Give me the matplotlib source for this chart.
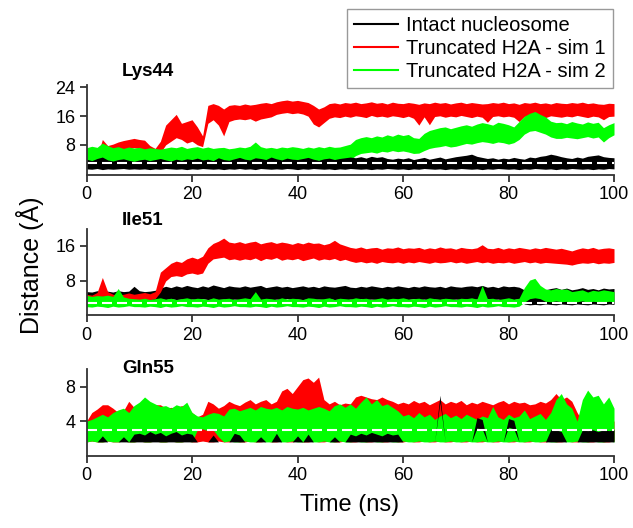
import numpy as np
import matplotlib
matplotlib.use('Agg')
import matplotlib.pyplot as plt
from matplotlib.lines import Line2D

plt.rcParams['font.family'] = ['Liberation Sans', 'DejaVu Sans']

# Tiempo de simulación (ns), un punto por ns; cada serie es una banda (mín / máx)
tiempo = np.arange(0, 101)

# ---------------- Lys44 ----------------
lys_blk_lo = [1.3, 1.2, 1.4, 1.1, 1.3, 1.2, 1.3, 1.4, 1.2, 1.3,
              1.2, 1.3, 1.1, 1.3, 1.2, 1.4, 1.3, 1.2, 1.3, 1.1,
              1.3, 1.2, 1.4, 1.3, 1.2, 1.3, 1.1, 1.3, 1.2, 1.4,
              1.2, 1.3, 1.1, 1.4, 1.3, 1.2, 1.3, 1.2, 1.4, 1.3,
              1.1, 1.3, 1.2, 1.4, 1.3, 1.2, 1.3, 1.1, 1.3, 1.2,
              1.4, 1.3, 1.2, 1.3, 1.1, 1.3, 1.2, 1.4, 1.3, 1.2,
              1.3, 1.1, 1.3, 1.2, 1.4, 1.3, 1.2, 1.3, 1.1, 1.3,
              1.2, 1.4, 1.3, 1.2, 1.3, 1.1, 1.3, 1.2, 1.4, 1.3,
              1.2, 1.3, 1.1, 1.3, 1.2, 1.4, 1.3, 1.2, 1.3, 1.1,
              1.3, 1.2, 1.4, 1.3, 1.2, 1.3, 1.1, 1.3, 1.2, 1.4,
              1.3]
lys_blk_hi = [4.0, 3.6, 4.2, 4.6, 3.8, 3.5, 3.9, 4.1, 3.7, 3.4,
              3.8, 4.0, 3.6, 3.9, 4.2, 3.8, 3.5, 4.0, 3.7, 4.1,
              3.9, 4.3, 3.8, 4.0, 3.6, 4.4, 3.9, 3.7, 4.1, 4.5,
              4.0, 3.8, 4.4, 4.2, 3.9, 4.6, 4.1, 3.8, 4.3, 4.0,
              3.9, 4.2, 4.5, 4.0, 3.7, 4.1, 4.3, 3.9, 4.2, 4.4,
              4.6, 4.4, 4.7, 4.3, 4.8, 4.5, 4.7, 4.2, 4.0, 4.3,
              4.1, 4.4, 3.9, 4.2, 4.5, 4.0, 4.3, 4.6, 4.1, 4.4,
              4.7, 4.9, 5.1, 5.4, 4.8, 4.5, 4.2, 4.4, 4.0, 4.3,
              4.1, 4.5, 4.2, 4.0, 4.6, 4.4, 4.8, 5.0, 5.4, 5.1,
              4.7, 4.4, 4.2, 4.6, 4.3, 4.8, 5.0, 5.2, 4.7, 4.5,
              4.4]
lys_red_lo = [3.0, 2.2, 1.5, 2.5, 4.5, 5.8, 6.3, 6.8, 7.0, 7.2,
              7.0, 6.6, 5.2, 5.0, 5.8, 8.0, 9.0, 10.0, 9.5, 8.5,
              9.0, 8.0, 7.5, 14.0, 15.0, 13.5, 10.5, 14.5, 15.0, 15.2,
              15.0, 15.3, 14.6, 15.2, 15.5, 15.8, 16.5, 16.8, 17.0, 16.7,
              16.9, 16.6, 16.0, 13.8, 13.0, 14.2, 15.4, 15.8, 15.6, 16.0,
              15.7, 16.1, 15.9, 15.6, 16.2, 15.8, 16.0, 15.7, 16.1, 15.9,
              15.6, 16.0, 15.4, 13.5, 15.8, 13.6, 15.9, 16.1, 15.7, 16.0,
              15.8, 16.2, 15.9, 15.6, 16.0, 15.7, 14.3, 15.9, 16.1, 15.8,
              16.0, 15.7, 14.5, 15.9, 16.2, 15.8, 16.0, 15.6, 16.1, 15.9,
              15.7, 16.0, 15.8, 16.2, 15.9, 15.6, 16.0, 15.8, 15.0, 15.9,
              16.0]
lys_red_hi = [6.0, 5.2, 4.5, 9.5, 7.8, 8.2, 8.8, 9.2, 9.5, 9.8,
              9.5, 9.3, 7.8, 7.0, 9.0, 13.5, 15.0, 16.5, 14.0, 14.5,
              15.0, 13.0, 10.5, 19.0, 19.5, 19.0, 18.0, 19.0, 19.2, 19.0,
              19.4, 19.1, 19.3, 19.6, 19.8, 19.5, 20.0, 20.3, 20.5, 20.2,
              20.4, 20.1, 19.8, 19.0, 18.0, 18.6, 19.5, 19.7, 19.4, 19.8,
              19.6, 19.9, 19.5, 19.7, 20.0, 19.6, 19.8, 19.4, 19.9, 19.6,
              19.5, 19.8, 19.6, 19.3, 19.7, 19.5, 19.9, 19.6, 19.8, 19.4,
              19.7, 19.9, 19.5, 19.8, 19.6, 19.4, 19.5, 19.8, 19.6, 19.9,
              19.5, 19.7, 19.3, 19.8, 19.6, 19.9, 19.5, 19.7, 19.4, 19.8,
              19.6, 19.5, 19.8, 19.6, 19.9, 19.5, 19.7, 19.4, 19.3, 19.6,
              19.5]
lys_grn_lo = [3.0, 2.6, 2.2, 2.8, 3.2, 3.0, 2.9, 3.3, 3.1, 3.0,
              3.2, 3.0, 3.4, 3.1, 2.9, 3.3, 3.5, 3.2, 3.0, 3.4,
              3.3, 3.1, 3.5, 3.2, 3.4, 3.0, 3.3, 3.6, 3.2, 3.4,
              3.5, 3.2, 3.4, 3.6, 3.3, 3.1, 3.5, 3.4, 3.2, 3.6,
              3.4, 3.6, 3.3, 3.5, 3.7, 3.4, 3.6, 3.3, 3.5, 3.8,
              3.8, 5.0, 5.6, 5.8, 6.0, 5.7, 6.2, 6.0, 6.4, 6.1,
              6.3, 6.0, 5.6, 5.7, 6.4, 7.0, 7.3, 7.5, 7.8, 7.4,
              7.6, 8.0, 8.4, 8.2, 8.6, 8.9, 8.7, 8.4, 8.8, 8.6,
              8.2, 8.6, 9.5, 11.0, 11.8, 12.0, 11.5, 11.0, 10.2, 9.8,
              9.8, 10.1, 9.9, 9.7, 10.0, 10.3, 9.9, 10.2, 8.8, 10.0,
              10.8]
lys_grn_hi = [7.2, 7.6, 7.3, 8.5, 7.8, 7.2, 7.5, 7.0, 7.4, 7.1,
              7.3, 6.9, 7.2, 7.0, 6.8, 7.1, 7.4, 7.2, 7.6, 7.0,
              7.3, 7.5, 7.1, 7.4, 7.0, 7.2, 7.3, 6.9, 7.1, 7.4,
              7.2, 7.6, 8.8, 7.5, 7.1, 7.3, 7.0, 7.4, 7.2, 7.5,
              7.3, 7.0, 7.4, 7.1, 7.5, 7.2, 7.6, 7.3, 7.4, 7.8,
              8.2, 9.5, 10.0, 10.3, 10.0, 10.5, 10.2, 10.8, 10.4, 11.0,
              10.6, 10.9, 10.0, 9.8, 11.2, 12.0, 12.4, 12.8, 13.0, 12.5,
              12.9, 13.3, 13.6, 13.2, 13.8, 14.2, 13.9, 13.5, 14.3, 14.0,
              13.6, 13.0, 14.5, 16.0, 16.8, 17.3, 16.5, 15.8, 14.6, 14.2,
              14.3, 13.9, 14.5, 14.1, 13.8, 14.4, 14.0, 14.3, 12.8, 13.6,
              14.2]

# ---------------- Ile51 ----------------
ile_blk_lo = [3.9, 3.8, 4.0, 3.8, 3.9, 3.7, 3.9, 3.8, 4.0, 3.8,
              3.9, 3.8, 3.9, 3.8, 3.9, 3.8, 4.0, 3.8, 3.9, 3.7,
              3.9, 3.8, 4.0, 3.8, 3.9, 3.8, 3.9, 3.7, 3.9, 3.8,
              3.9, 3.8, 4.0, 3.8, 3.9, 3.7, 3.9, 3.8, 4.0, 3.8,
              3.9, 3.8, 3.9, 3.8, 3.9, 3.8, 4.0, 3.8, 3.9, 3.7,
              3.9, 3.8, 4.0, 3.8, 3.9, 3.8, 3.9, 3.7, 3.9, 3.8,
              3.9, 3.8, 4.0, 3.8, 3.9, 3.7, 3.9, 3.8, 4.0, 3.8,
              3.9, 3.8, 3.9, 3.8, 3.9, 3.8, 4.0, 3.8, 3.9, 3.7,
              3.9, 3.8, 4.0, 2.8, 2.6, 2.7, 2.6, 2.8, 2.7, 2.6,
              2.8, 2.7, 2.6, 2.8, 2.7, 2.6, 2.8, 2.7, 2.6, 2.8,
              2.7]
ile_blk_hi = [5.6, 5.5, 5.8, 5.6, 5.7, 5.5, 5.8, 5.6, 5.7, 6.8,
              5.8, 5.6, 5.7, 5.9, 6.4, 6.8, 6.5, 6.9, 6.6, 7.0,
              6.7, 6.5, 6.9, 6.6, 7.1, 6.8, 6.5, 6.9, 6.7, 6.6,
              6.9, 6.6, 6.8, 7.0, 6.5, 6.7, 6.9, 6.6, 6.8, 6.5,
              6.7, 6.9, 6.6, 6.8, 6.5, 6.9, 6.7, 6.6, 6.8, 7.0,
              6.6, 6.5, 6.8, 6.6, 6.9, 6.7, 6.5, 6.8, 6.6, 6.9,
              6.7, 6.5, 6.8, 6.6, 6.9, 6.7, 6.6, 6.8, 6.5, 6.9,
              6.7, 6.6, 6.8, 6.9, 6.7, 7.0, 6.6, 6.8, 6.5, 6.9,
              6.7, 6.8, 6.6, 6.0, 5.8, 6.2, 6.4, 6.0, 6.3, 6.5,
              6.1, 6.4, 6.0, 6.2, 6.5, 6.1, 6.3, 6.0, 6.4, 6.2,
              6.3]
ile_red_lo = [3.8, 3.7, 3.9, 4.0, 3.8, 3.7, 3.8, 3.9, 3.8, 3.7,
              3.8, 3.9, 3.8, 4.0, 5.5, 8.0, 9.0, 9.2, 9.0, 9.6,
              9.8, 9.5, 9.8, 12.0, 13.0, 13.2, 13.4, 12.8, 13.0, 12.7,
              13.0, 12.8, 13.2, 12.6, 13.1, 12.9, 13.3, 12.7, 13.0, 12.8,
              13.1, 12.6, 12.9, 13.2, 12.7, 13.0, 12.8, 13.1, 12.6, 12.9,
              12.5, 12.2, 12.4, 12.1, 12.3, 12.0, 12.4, 12.2, 12.1, 12.3,
              12.0, 12.3, 12.1, 12.4, 12.2, 12.0, 12.3, 12.1, 12.2, 12.4,
              12.1, 12.3, 12.0, 12.2, 12.4, 12.1, 12.3, 12.0, 12.2, 12.1,
              12.3, 12.0, 12.2, 12.4, 12.1, 12.3, 12.0, 12.2, 12.1, 12.0,
              11.9, 11.8, 11.6, 11.9, 12.1, 12.0, 12.2, 11.9, 12.1, 12.0,
              12.2]
ile_red_hi = [5.0, 4.8, 5.4, 8.8, 5.6, 5.0, 4.8, 5.0, 5.3, 5.0,
              5.2, 5.4, 5.1, 5.6, 10.0, 11.0, 12.0, 12.5, 12.2, 13.0,
              13.4, 13.0, 13.6, 15.5, 16.5, 17.0, 17.7, 16.8, 16.6, 16.9,
              16.5, 16.8, 17.0, 16.4, 16.7, 16.9, 16.5, 16.8, 16.6, 16.3,
              16.7, 16.4, 16.8, 16.5, 16.6, 16.2, 16.5, 17.2, 16.4, 16.0,
              15.6, 15.4, 15.7, 15.3, 15.5, 15.6, 15.2, 15.5, 15.4, 15.7,
              15.3, 15.5, 15.4, 15.6, 15.2, 15.5, 15.3, 15.7, 15.4, 15.5,
              15.2, 15.6, 15.4, 15.3, 15.5, 16.2, 15.4, 15.3, 15.6, 15.2,
              15.5, 15.3, 15.6, 15.4, 15.2, 15.5, 15.3, 15.6, 15.4, 15.2,
              15.4, 15.1, 14.8, 15.2, 15.5, 15.3, 15.6, 15.2, 15.4, 15.5,
              15.3]
ile_grn_lo = [2.2, 2.1, 2.3, 2.2, 2.0, 2.3, 2.1, 2.2, 2.4, 2.2,
              2.2, 2.1, 2.3, 2.2, 2.0, 2.3, 2.1, 2.2, 2.4, 2.2,
              2.2, 2.1, 2.3, 2.2, 2.0, 2.3, 2.1, 2.2, 2.4, 2.2,
              2.2, 2.1, 2.3, 2.2, 2.0, 2.3, 2.1, 2.2, 2.4, 2.2,
              2.2, 2.1, 2.3, 2.2, 2.0, 2.3, 2.1, 2.2, 2.4, 2.2,
              2.2, 2.1, 2.3, 2.2, 2.0, 2.3, 2.1, 2.2, 2.4, 2.2,
              2.2, 2.1, 2.3, 2.2, 2.0, 2.3, 2.1, 2.2, 2.4, 2.2,
              2.2, 2.1, 2.3, 2.2, 2.0, 2.3, 2.1, 2.2, 2.4, 2.2,
              2.2, 2.1, 2.3, 3.2, 4.0, 4.2, 4.0, 3.4, 3.3, 3.5,
              3.3, 3.4, 3.2, 3.3, 3.5, 3.2, 3.4, 3.3, 3.2, 3.4,
              3.3]
ile_grn_hi = [4.8, 4.5, 4.7, 4.6, 4.8, 4.5, 6.3, 4.4, 4.1, 4.0,
              3.9, 4.1, 3.8, 4.0, 4.2, 3.9, 4.1, 3.8, 4.0, 4.2,
              3.9, 4.1, 4.0, 3.8, 4.2, 3.9, 4.0, 4.1, 3.8, 4.0,
              4.2, 4.0, 5.6, 3.9, 4.1, 4.0, 3.8, 4.2, 3.9, 4.1,
              4.0, 3.8, 4.2, 4.1, 3.9, 4.0, 4.2, 3.8, 4.1, 4.0,
              3.9, 4.2, 4.0, 4.1, 3.8, 4.0, 4.2, 3.9, 4.1, 4.0,
              4.2, 3.9, 4.0, 4.1, 3.8, 4.2, 4.0, 3.9, 4.1, 4.0,
              3.8, 4.1, 4.0, 4.2, 3.9, 7.0, 4.0, 4.1, 3.8, 4.0,
              4.2, 3.9, 4.1, 6.5, 8.2, 8.6, 7.0, 6.2, 6.0, 6.3,
              6.1, 6.2, 5.6, 5.8, 6.0, 5.5, 5.9, 5.7, 6.0, 5.8,
              5.6]

# ---------------- Gln55 ----------------
gln_blk_lo = [1.6, 1.6, 1.6, 1.6, 1.6, 1.6, 1.6, 1.6, 1.6, 1.6,
              1.6, 1.6, 1.6, 1.6, 1.6, 1.6, 1.6, 1.6, 1.6, 1.6,
              1.6, 1.6, 1.6, 1.6, 1.6, 1.6, 1.6, 1.6, 1.6, 1.6,
              1.6, 1.6, 1.6, 1.6, 1.6, 1.6, 1.6, 1.6, 1.6, 1.6,
              1.6, 1.6, 1.6, 1.6, 1.6, 1.6, 1.6, 1.6, 1.6, 1.6,
              1.6, 1.6, 1.6, 1.6, 1.6, 1.6, 1.6, 1.6, 1.6, 1.6,
              1.6, 1.6, 1.6, 1.6, 1.6, 1.6, 1.6, 6.2, 1.6, 1.6,
              1.6, 1.6, 1.6, 1.6, 3.2, 3.1, 1.6, 1.6, 1.6, 1.6,
              3.3, 3.1, 1.6, 1.6, 1.6, 1.6, 1.6, 1.6, 1.6, 1.6,
              1.6, 1.6, 1.6, 1.6, 1.6, 1.6, 1.6, 1.6, 1.6, 1.6,
              1.6]
gln_blk_hi = [1.6, 1.6, 1.6, 2.3, 1.6, 1.6, 1.6, 2.2, 1.6, 2.5,
              2.6, 2.4, 2.8, 2.5, 2.7, 2.3, 2.6, 2.8, 2.4, 2.6,
              2.5, 1.6, 1.6, 1.6, 2.4, 1.6, 1.6, 1.6, 2.6, 2.4,
              1.6, 1.6, 1.6, 2.2, 1.6, 1.6, 2.6, 1.6, 1.6, 1.6,
              2.3, 1.6, 2.5, 1.6, 1.6, 1.6, 1.6, 2.2, 1.6, 1.6,
              2.5, 2.3, 2.6, 2.4, 2.7, 2.5, 2.3, 2.6, 2.4, 2.5,
              1.6, 1.6, 1.6, 1.6, 1.6, 1.6, 1.6, 7.0, 1.6, 1.6,
              1.6, 1.6, 1.6, 1.6, 4.4, 4.2, 1.6, 1.6, 1.6, 1.6,
              4.3, 4.1, 1.6, 1.6, 1.6, 1.6, 1.6, 1.6, 3.0, 3.0,
              2.8, 1.6, 1.6, 1.6, 3.0, 2.9, 3.0, 2.8, 3.0, 2.9,
              3.0]
gln_red_lo = [1.6, 1.7, 1.6, 1.6, 1.7, 1.6, 1.6, 1.7, 1.6, 1.6,
              1.7, 1.6, 1.6, 1.7, 1.6, 1.6, 1.7, 1.6, 1.6, 1.7,
              1.6, 1.6, 1.7, 1.6, 1.6, 1.7, 1.6, 1.6, 1.7, 1.6,
              1.6, 1.7, 1.6, 1.6, 1.7, 1.6, 1.6, 1.7, 1.6, 1.6,
              1.7, 1.6, 1.6, 1.7, 1.6, 1.6, 1.7, 1.6, 1.6, 1.7,
              1.6, 1.6, 1.7, 1.6, 1.6, 1.7, 1.6, 1.6, 1.7, 1.6,
              1.6, 1.7, 1.6, 1.6, 1.7, 1.6, 1.6, 1.7, 1.6, 1.6,
              1.7, 1.6, 1.6, 1.7, 1.6, 1.6, 1.7, 1.6, 1.6, 1.7,
              1.6, 1.6, 1.7, 1.6, 1.6, 1.7, 1.6, 1.6, 1.7, 1.6,
              1.6, 1.7, 1.6, 1.6, 1.7, 1.6, 1.6, 1.7, 1.6, 1.6,
              1.7]
gln_red_hi = [4.0, 5.0, 5.4, 5.9, 5.9, 5.5, 5.0, 5.2, 6.3, 5.6,
              5.5, 5.8, 5.5, 5.9, 5.9, 5.5, 5.6, 5.5, 5.8, 5.6,
              5.0, 4.5, 4.8, 6.3, 6.0, 5.5, 5.8, 6.3, 6.0, 5.8,
              6.2, 6.5, 6.0, 6.3, 6.5, 6.0, 6.3, 7.5, 7.8, 7.2,
              8.0, 8.8, 9.0, 8.5, 9.1, 6.5, 6.0, 6.3, 5.9, 6.1,
              6.0, 6.8, 7.0, 6.8, 6.6, 6.5, 6.8, 6.5, 6.3, 6.0,
              6.2, 6.0, 6.4, 6.1, 6.3, 5.9, 6.2, 6.5, 6.0, 6.3,
              6.1, 6.4, 5.9, 6.2, 6.0, 6.3, 6.1, 5.9, 6.2, 6.4,
              6.0, 6.3, 6.1, 6.2, 5.9, 6.0, 6.3, 6.1, 6.5, 7.2,
              6.5, 6.8, 6.3, 5.0, 4.0, 4.2, 4.0, 4.1, 4.0, 4.2,
              4.0]
gln_grn_lo = [1.6, 1.7, 1.6, 1.6, 1.7, 1.6, 1.6, 1.7, 1.6, 1.6,
              1.7, 1.6, 1.6, 1.7, 1.6, 1.6, 1.7, 1.6, 1.6, 1.7,
              1.6, 3.0, 3.1, 2.9, 3.0, 2.2, 1.6, 1.7, 1.6, 1.6,
              1.7, 1.6, 1.6, 1.7, 1.6, 1.6, 1.7, 1.6, 1.6, 1.7,
              1.6, 1.6, 1.7, 1.6, 1.6, 1.7, 1.6, 1.6, 1.7, 1.6,
              1.6, 1.7, 1.6, 1.6, 1.7, 1.6, 1.6, 1.7, 1.6, 1.6,
              1.7, 1.6, 1.6, 1.7, 1.6, 1.6, 1.7, 1.6, 1.6, 1.7,
              1.6, 1.6, 1.7, 1.6, 1.6, 1.7, 1.6, 1.6, 1.7, 1.6,
              1.6, 1.7, 1.6, 1.6, 1.7, 1.6, 1.6, 1.7, 1.6, 1.6,
              1.7, 1.6, 1.6, 1.7, 1.6, 1.6, 1.7, 1.6, 1.6, 1.7,
              1.6]
gln_grn_hi = [4.0, 4.2, 4.5, 4.8, 4.5, 5.0, 5.3, 5.5, 5.0, 5.8,
              6.2, 6.8, 6.3, 6.0, 5.7, 5.8, 5.5, 5.9, 5.7, 6.2,
              5.0, 4.6, 4.5, 4.8, 5.0, 4.9, 4.6, 5.4, 5.5, 5.2,
              5.4, 5.6, 5.3, 5.7, 5.5, 5.4, 5.6, 5.3, 5.7, 5.5,
              5.4, 5.6, 5.3, 5.5, 5.7, 5.5, 5.2, 5.8, 6.0, 5.6,
              6.0, 5.5, 6.2, 6.8, 6.0, 6.5, 5.8, 6.0, 5.6, 5.2,
              4.6, 4.8, 4.4, 5.0, 4.5, 4.8, 4.2, 4.6, 4.9, 4.4,
              4.7, 4.3, 4.8, 4.5, 4.2, 4.6, 4.4, 5.7, 4.5, 4.2,
              4.8, 4.4, 4.6, 5.3, 4.3, 4.6, 4.9, 4.2, 5.0, 6.5,
              7.2, 6.0, 5.5, 4.0, 6.5, 7.6, 6.8, 7.0, 6.0, 6.8,
              5.5]

etiquetas = ['Intact nucleosome', 'Truncated H2A - sim 1', 'Truncated H2A - sim 2']
colores = {'blk': 'black', 'red': '#ff0000', 'grn': '#00ff00'}
corte = 3.0  # línea discontinua blanca


def graficar():
    fig = plt.figure(figsize=(6.33, 5.28), dpi=100)

    paneles = [
        dict(nombre='Lys44', pos=[0.1367, 0.6686, 0.8333, 0.1705], ylim=(-0.4, 24.7),
             yticks=[8, 16, 24], ytit=0.865,
             bandas=[('red', lys_red_lo, lys_red_hi), ('grn', lys_grn_lo, lys_grn_hi),
                     ('blk', lys_blk_lo, lys_blk_hi)]),
        dict(nombre='Ile51', pos=[0.1367, 0.4025, 0.8333, 0.1633], ylim=(0.2, 19.7),
             yticks=[8, 16], ytit=0.583,
             bandas=[('blk', ile_blk_lo, ile_blk_hi), ('red', ile_red_lo, ile_red_hi),
                     ('grn', ile_grn_lo, ile_grn_hi)]),
        dict(nombre='Gln55', pos=[0.1367, 0.1369, 0.8333, 0.1636], ylim=(0, 10),
             yticks=[4, 8], ytit=0.303,
             bandas=[('red', gln_red_lo, gln_red_hi), ('grn', gln_grn_lo, gln_grn_hi),
                     ('blk', gln_blk_lo, gln_blk_hi)]),
    ]

    for p in paneles:
        ax = fig.add_axes(p['pos'])
        for clave, lo, hi in p['bandas']:
            ax.fill_between(tiempo, lo, hi, color=colores[clave], lw=0)
        ax.axhline(corte, color='white', lw=1.5, dashes=(4.8, 2.4))
        ax.set_xlim(0, 100)
        ax.set_ylim(*p['ylim'])
        ax.set_xticks([0, 20, 40, 60, 80, 100])
        ax.set_yticks(p['yticks'])
        for s in ['top', 'right']:
            ax.spines[s].set_visible(False)
        for s in ['left', 'bottom']:
            ax.spines[s].set_linewidth(1.3)
            ax.spines[s].set_color('#333333')
        ax.tick_params(direction='out', length=5, width=1.3, color='#333333',
                       labelsize=13, pad=3)
        fig.text(0.193, p['ytit'], p['nombre'], fontsize=13.5, fontweight='bold',
                 va='center', ha='left')

    fig.text(0.048, 0.498, 'Distance (Å)', rotation=90, fontsize=18,
             ha='center', va='center')
    fig.text(0.553, 0.044, 'Time (ns)', fontsize=17, ha='center', va='center')

    manejadores = [Line2D([], [], color=colores[k], lw=1.5) for k in ['blk', 'red', 'grn']]
    leg = fig.legend(manejadores, etiquetas, loc='upper right',
                     bbox_to_anchor=(0.9684, 0.983), fontsize=14.5, fancybox=False,
                     edgecolor='#808080', handlelength=2.2, handletextpad=0.4,
                     labelspacing=0.2, borderpad=0.35, borderaxespad=0)
    leg.get_frame().set_linewidth(1.0)

    fig.savefig('out.png', dpi=100)


if __name__ == "__main__":
    graficar()
